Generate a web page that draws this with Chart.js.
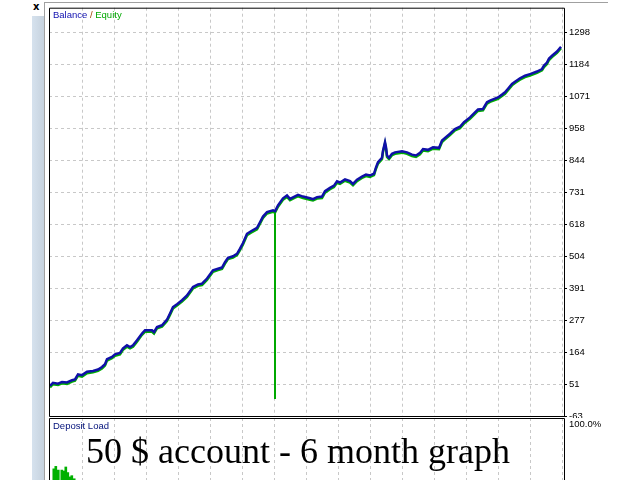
<!DOCTYPE html>
<html>
<head>
<meta charset="utf-8">
<script src="https://cdn.jsdelivr.net/npm/chart.js@4.4.1/dist/chart.umd.min.js"></script>
<style>
  html, body { margin: 0; padding: 0; width: 640px; height: 480px; overflow: hidden; background: #fff; }
  #side { position: absolute; left: 32px; top: 16px; width: 12px; height: 464px; background: linear-gradient(to right, #d6e2ee, #c6d2de); }
  #close { position: absolute; left: 33px; top: 1px; font: bold 10px "DejaVu Sans", sans-serif; color: #000; }
  #edgeTop { position: absolute; left: 44px; top: 2px; width: 564px; height: 1px; background: #a0a0a0; }
  #edgeLeft { position: absolute; left: 44px; top: 2px; width: 1px; height: 478px; background: #a0a0a0; z-index: 5; }
  #main { position: absolute; left: 44px; top: 0; }
  #load { position: absolute; left: 44px; top: 418px; background: #fff; }
</style>
</head>
<body>
<div id="side"></div>
<div id="close">x</div>
<div id="edgeTop"></div>
<div id="edgeLeft"></div>
<canvas id="main" width="596" height="425"></canvas>
<canvas id="load" width="596" height="62"></canvas>
<script>
// trade number along the test, balance and equity
const trades = [
  1, 4, 9, 13, 18, 23, 26, 29, 33, 38,
  44, 49, 53, 56, 58, 63, 66, 71, 74, 78,
  81, 84, 88, 93, 96, 103, 105, 108, 113, 118,
  121, 124, 128, 133, 138, 144, 149, 153, 158, 164,
  169, 173, 176, 179, 184, 188, 191, 194, 198, 202,
  208, 211, 214, 218, 224, 226, 229, 234, 238, 241,
  246, 249, 254, 261, 264, 268, 273, 276, 281, 285,
  288, 291, 296, 301, 304, 308, 313, 317, 321, 325,
  327, 329, 333, 334, 336, 337, 338, 340, 343, 346,
  353, 358, 363, 367, 371, 374, 379, 384, 390, 393,
  396, 401, 406, 411, 415, 421, 426, 429, 434, 438,
  441, 449, 453, 456, 459, 463, 466, 471, 476, 481,
  488, 493, 495, 498, 500, 503, 508, 512
];
const balance = [
  44, 55, 52, 58, 56, 64, 67, 85, 82, 94,
  97, 102, 111, 121, 139, 147, 156, 161, 177, 188,
  182, 188, 206, 230, 241, 241, 235, 253, 259, 279,
  301, 324, 334, 348, 365, 395, 404, 407, 425, 454,
  460, 464, 483, 499, 504, 513, 531, 551, 584, 593,
  605, 625, 645, 661, 667, 664, 685, 710, 720, 708,
  717, 722, 716, 710, 707, 714, 716, 735, 747, 755,
  770, 766, 777, 771, 761, 776, 787, 794, 791, 797,
  820, 838, 854, 879, 909, 891, 862, 854, 868, 873,
  877, 873, 865, 862, 871, 885, 882, 891, 889, 915,
  924, 939, 956, 964, 980, 997, 1015, 1025, 1027, 1051,
  1057, 1068, 1078, 1086, 1099, 1116, 1124, 1136, 1145, 1151,
  1160, 1169, 1181, 1192, 1206, 1216, 1231, 1248
];
const equity = [
  39, 50, 47, 53, 51, 59, 62, 80, 77, 89,
  92, 97, 106, 116, 134, 142, 151, 156, 172, 183,
  177, 183, 201, 225, 236, 236, 230, 248, 254, 274,
  296, 319, 329, 343, 360, 390, 399, 402, 420, 449,
  455, 459, 478, 494, 499, 508, 526, 546, 579, 588,
  600, 620, 640, 656, 662, 659, 680, 705, 715, 703,
  712, 717, 711, 705, 702, 709, 711, 730, 742, 750,
  765, 761, 772, 766, 756, 771, 782, 789, 786, 792,
  815, 833, 849, 874, 904, 886, 857, 849, 863, 868,
  872, 868, 860, 857, 866, 880, 877, 886, 884, 910,
  919, 934, 951, 959, 975, 992, 1010, 1020, 1022, 1046,
  1052, 1063, 1073, 1081, 1094, 1111, 1119, 1131, 1140, 1146,
  1155, 1164, 1176, 1187, 1201, 1211, 1226, 1243
];
// the one deep equity drawdown
const dropTrades = [226, 226];
const dropEquity = [664, -3];

const yTickLabels = ['-63', '51', '164', '277', '391', '504', '618', '731', '844', '958', '1071', '1184', '1298'];

// deposit load histogram (%)
const loadTrades = [4.8, 6.8, 9.3, 12.8, 14.8, 16.8, 18.8, 20.8, 22.8, 25.2];
const loadValues = [18, 22, 16, 16, 14.5, 21, 12, 5, 7, 2];

const yMin = -63;
const yStep = 113.417;
const yMax = yMin + yStep * 409 / 32;
const lastTrade = 515;

const pts = (xs, ys) => xs.map((x, i) => ({ x: x, y: ys[i] }));
const labelFont = { family: 'Liberation Sans', size: 9.5 };

function xGridTicks(scale) {
  scale.ticks = [];
  for (let v = 33.6; v < lastTrade; v += 32) scale.ticks.push({ value: v });
}

const frame = {
  id: 'frame',
  afterDatasetsDraw(chart, args, opts) {
    const { ctx, chartArea: a } = chart;
    ctx.save();
    ctx.strokeStyle = '#000';
    ctx.lineWidth = 1;
    ctx.beginPath();
    ctx.moveTo(a.left + 0.5, a.bottom + 0.5);
    ctx.lineTo(a.left + 0.5, a.top + 0.5);
    ctx.lineTo(a.right + 0.5, a.top + 0.5);
    ctx.lineTo(a.right + 0.5, a.bottom + 0.5);
    if (opts.closed) ctx.closePath();
    ctx.stroke();
    ctx.restore();
  }
};

const mainTexts = {
  id: 'mainTexts',
  afterDraw(chart) {
    const ctx = chart.ctx;
    ctx.save();
    ctx.font = '9.5px "Liberation Sans"';
    ctx.textBaseline = 'middle';
    let x = 9;
    [['Balance', '#1010b0'], [' / ', '#a04000'], ['Equity', '#00a800']].forEach(([t, c]) => {
      ctx.fillStyle = c;
      ctx.fillText(t, x, 15);
      x += ctx.measureText(t).width;
    });
    ctx.restore();
  }
};

new Chart(document.getElementById('main'), {
  type: 'line',
  data: {
    datasets: [
      {
        label: 'Balance',
        data: pts(trades, balance),
        borderColor: '#1010a8',
        borderWidth: 2.5,
        pointRadius: 0,
        order: 0
      },
      {
        label: 'Equity',
        data: pts(trades, equity),
        borderColor: '#00b000',
        borderWidth: 2.5,
        pointRadius: 0,
        order: 1
      },
      {
        label: 'Equity drop',
        data: pts(dropTrades, dropEquity),
        borderColor: '#00a800',
        borderWidth: 2,
        pointRadius: 0,
        order: 2
      }
    ]
  },
  options: {
    responsive: false,
    animation: false,
    layout: { padding: { left: 5, top: 7, right: 0, bottom: 9 } },
    plugins: { legend: { display: false }, tooltip: { enabled: false }, frame: { closed: true } },
    scales: {
      x: {
        type: 'linear',
        min: 0,
        max: lastTrade,
        afterBuildTicks: xGridTicks,
        afterFit: s => { s.height = 0; },
        ticks: { display: false },
        grid: { color: '#c8c8c8', drawTicks: false },
        border: { display: false, dash: [3, 3] }
      },
      y: {
        position: 'right',
        min: yMin,
        max: yMax,
        afterBuildTicks: s => {
          s.ticks = yTickLabels.map((t, i) => ({ value: yMin + i * yStep - 0.3 }));
        },
        afterFit: s => { s.width = 76; },
        ticks: {
          color: '#000',
          font: labelFont,
          padding: 2,
          callback: (v, i) => yTickLabels[i]
        },
        grid: { color: '#c8c8c8', tickColor: '#000', tickLength: 3 },
        border: { display: false, dash: [3, 3] }
      }
    }
  },
  plugins: [frame, mainTexts]
});

const loadTexts = {
  id: 'loadTexts',
  afterDraw(chart) {
    const ctx = chart.ctx;
    ctx.save();
    ctx.textBaseline = 'middle';
    ctx.font = '9.5px "Liberation Sans"';
    ctx.fillStyle = '#00107a';
    ctx.fillText('Deposit Load', 9, 8.5);
    ctx.fillStyle = '#000';
    ctx.fillText('100.0%', 525, 6.5);
    ctx.textBaseline = 'alphabetic';
    ctx.font = '36px "Liberation Serif"';
    ctx.fillText('50 $ account - 6 month graph', 42, 45);
    ctx.restore();
  }
};

new Chart(document.getElementById('load'), {
  type: 'bar',
  data: {
    datasets: [{
      label: 'Deposit Load',
      data: pts(loadTrades, loadValues),
      backgroundColor: '#00b000',
      barThickness: 2
    }]
  },
  options: {
    responsive: false,
    animation: false,
    layout: { padding: { left: 5, top: 0, right: 0, bottom: 0 } },
    plugins: { legend: { display: false }, tooltip: { enabled: false }, frame: { closed: false } },
    scales: {
      x: {
        type: 'linear',
        offset: false,
        min: 0,
        max: lastTrade,
        afterBuildTicks: xGridTicks,
        afterFit: s => { s.height = 0; },
        ticks: { display: false },
        grid: { color: '#c8c8c8', drawTicks: false, offset: false },
        border: { display: false, dash: [3, 3] }
      },
      y: {
        position: 'right',
        min: 0,
        max: 100,
        afterFit: s => { s.width = 76; },
        ticks: { display: false },
        grid: { display: false },
        border: { display: false }
      }
    }
  },
  plugins: [frame, loadTexts]
});
</script>
</body>
</html>
